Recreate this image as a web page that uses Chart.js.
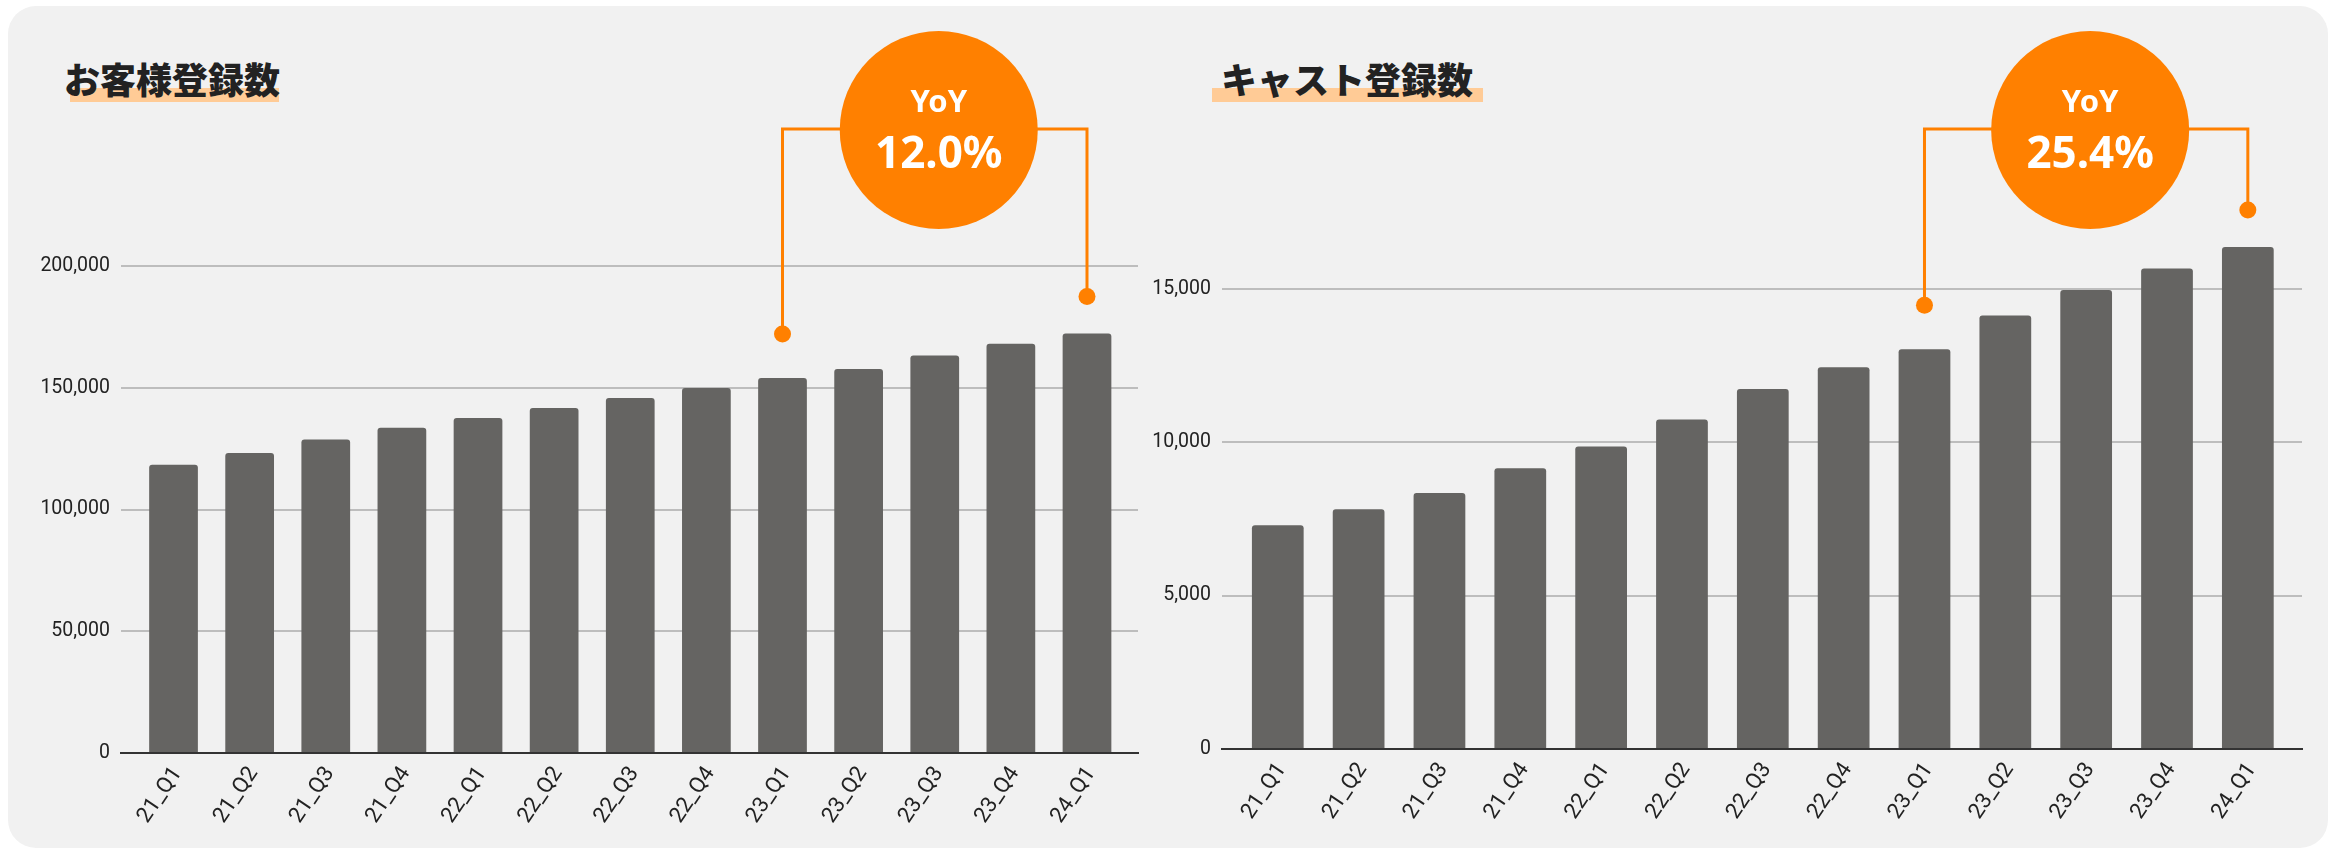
<!DOCTYPE html>
<html>
<head>
    <meta charset="utf-8">
    <title>お客様登録数 / キャスト登録数</title>
    <script src="https://cdn.jsdelivr.net/npm/chart.js"></script>
    <style>
        body {
            margin: 0;
            width: 2338px;
            height: 850px;
            overflow: hidden;
            position: relative;
            background: #fff;
            font-family: "Noto Sans CJK JP", sans-serif;
        }
        .card {
            position: absolute;
            left: 8px;
            top: 6px;
            width: 2320px;
            height: 842px;
            border-radius: 28px;
            background: #f1f1f1;
        }
        .mark {
            position: absolute;
            top: 88px;
            height: 14px;
            background: #ffcb96;
        }
        .title {
            position: absolute;
            top: 60px;
            font-size: 36px;
            font-weight: 900;
            line-height: 36px;
            color: #222;
            white-space: nowrap;
        }
        canvas {
            position: absolute;
            top: 0;
        }
    </style>
</head>
<body>
    <div class="card"></div>
    <div class="mark" style="left:70px; width:209px;"></div>
    <div class="title" style="left:64px;">お客様登録数</div>
    <div class="mark" style="left:1212px; width:271px;"></div>
    <div class="title" style="left:1221px;">キャスト登録数</div>

    <canvas id="customerChart" width="1169" height="850" style="left:0;"></canvas>
    <canvas id="castChart" width="1238" height="850" style="left:1100px;"></canvas>

    <script>
        const quarters = ['21_Q1', '21_Q2', '21_Q3', '21_Q4', '22_Q1', '22_Q2', '22_Q3', '22_Q4', '23_Q1', '23_Q2', '23_Q3', '23_Q4', '24_Q1'];
        const customerCounts = [118400, 123200, 128700, 133600, 137600, 141700, 145800, 149900, 154000, 157700, 163200, 168100, 172300];
        const castCounts = [7290, 7810, 8340, 9150, 9860, 10740, 11730, 12440, 13030, 14130, 14960, 15660, 16360];
        const customerTicks = [0, 50000, 100000, 150000, 200000];
        const castTicks = [0, 5000, 10000, 15000];
        const yoyLabels = ['12.0%', '25.4%'];

        const ORANGE = '#ff8000';
        const BAR = '#656462';

        // bracket + orange bubble from 23_Q1 to 24_Q1
        const yoyBubble = {
            id: 'yoyBubble',
            afterDatasetsDraw(chart, args, opts) {
                const ctx = chart.ctx;
                const bars = chart.getDatasetMeta(0).data;
                const a = bars[opts.from], b = bars[opts.to];
                const ya = a.y - opts.gaps[0];
                const yb = b.y - opts.gaps[1];
                const cx = (a.x + b.x) / 2 + opts.shift;
                const cy = opts.centerY;

                ctx.save();
                ctx.strokeStyle = ORANGE;
                ctx.fillStyle = ORANGE;
                ctx.lineWidth = 3;
                ctx.beginPath();
                ctx.moveTo(a.x, ya);
                ctx.lineTo(a.x, opts.lineY);
                ctx.lineTo(b.x, opts.lineY);
                ctx.lineTo(b.x, yb);
                ctx.stroke();

                [[a.x, ya], [b.x, yb]].forEach(([x, y]) => {
                    ctx.beginPath();
                    ctx.arc(x, y, 8.5, 0, Math.PI * 2);
                    ctx.fill();
                });

                ctx.beginPath();
                ctx.arc(cx, cy, 99, 0, Math.PI * 2);
                ctx.fill();

                ctx.fillStyle = '#fff';
                ctx.textAlign = 'center';
                ctx.textBaseline = 'alphabetic';
                ctx.font = 'bold 31px "Noto Sans"';
                ctx.fillText('YoY', cx, cy - 18);
                ctx.font = 'bold 44px "Noto Sans"';
                ctx.fillText(opts.label, cx, cy + 38);
                ctx.restore();
            }
        };

        function makeChart(id, values, yTicks, yMax, axisWidth, axisHeight, pad, label) {
            return new Chart(document.getElementById(id), {
                type: 'bar',
                data: {
                    datasets: [{
                        data: values.map((v, i) => ({ x: i, y: v })),
                        backgroundColor: BAR,
                        borderRadius: 3,
                        borderSkipped: 'bottom',
                        categoryPercentage: 1,
                        barPercentage: 0.64
                    }]
                },
                options: {
                    responsive: false,
                    animation: false,
                    devicePixelRatio: 1,
                    layout: { padding: pad },
                    plugins: {
                        legend: { display: false },
                        tooltip: { enabled: false },
                        yoyBubble: {
                            from: 8, to: 12, gaps: [44, 37],
                            lineY: 129, centerY: 130, shift: 4,
                            label: label
                        }
                    },
                    scales: {
                        x: {
                            type: 'linear',
                            offset: false,
                            min: -0.69,
                            max: 12.67,
                            afterBuildTicks: s => { s.ticks = quarters.map((q, i) => ({ value: i })); },
                            afterFit: s => { s.height = axisHeight; },
                            ticks: {
                                callback: v => quarters[v],
                                autoSkip: false,
                                minRotation: 56,
                                maxRotation: 56,
                                padding: 9,
                                labelOffset: 4,
                                color: '#222',
                                font: { family: 'Roboto', size: 22 }
                            },
                            grid: { display: true, drawOnChartArea: false, drawTicks: false, offset: false },
                            border: { display: true, color: '#333', width: 2 }
                        },
                        y: {
                            min: 0,
                            max: yMax,
                            afterBuildTicks: s => { s.ticks = yTicks.map(v => ({ value: v })); },
                            afterFit: s => { s.width = axisWidth; },
                            ticks: {
                                callback: v => v.toLocaleString('en-US'),
                                padding: 11,
                                color: '#222',
                                font: { family: 'Roboto', size: 19.5 }
                            },
                            grid: { color: '#bdbdbd', lineWidth: 2, drawTicks: false },
                            border: { display: false }
                        }
                    }
                },
                plugins: [yoyBubble]
            });
        }

        makeChart('customerChart', customerCounts, customerTicks, 200000, 121, 97,
            { top: 266, right: 31, left: 0, bottom: 0 }, yoyLabels[0]);
        makeChart('castChart', castCounts, castTicks, 17500, 122, 101,
            { top: 212, right: 36, left: 0, bottom: 0 }, yoyLabels[1]);
    </script>
</body>
</html>
